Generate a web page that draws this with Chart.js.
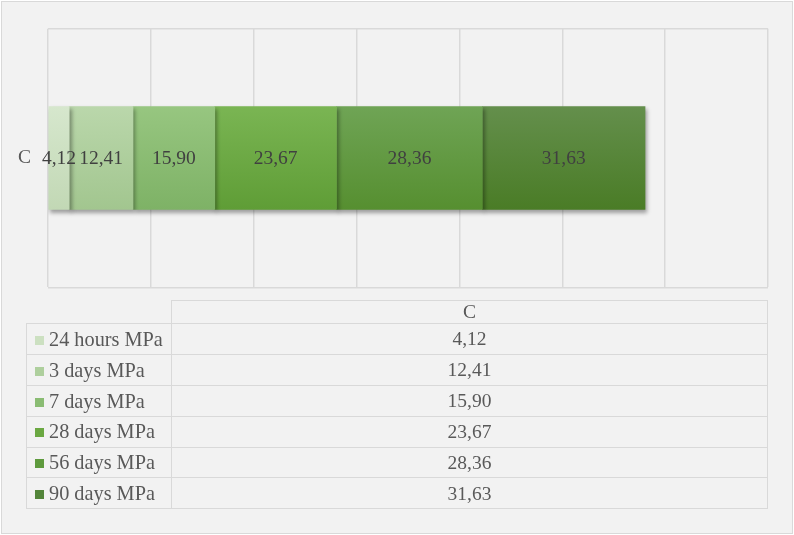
<!DOCTYPE html>
<html lang="en">
<head>
  <meta charset="utf-8" />
  <title>Compressive strength C</title>
  <script src="https://cdn.jsdelivr.net/npm/chart.js"></script>
  <style>
    * { box-sizing: border-box; margin: 0; padding: 0; }
    body { background: #fff; width: 794px; height: 535px; overflow: hidden; }

    .frame {
      position: absolute;
      left: 1px; top: 1px;
      width: 792px; height: 533px;
      background: #f2f2f2;
      border: 1.5px solid #d9d9d9;
    }

    #chartWrap {
      position: absolute;
      left: 0; top: 0;
      width: 794px; height: 316px;
    }

    table.data {
      position: absolute;
      left: 26px; top: 300px;
      width: 742px;
      border-collapse: collapse;
      font-family: "Liberation Serif", "Times New Roman", serif;
      font-size: 19.5px;
      color: #595959;
    }

    table.data td {
      border: 1.5px solid #d9d9d9;
      padding: 0;
      line-height: 1;
    }

    table.data tr.head td { height: 23px; text-align: center; }
    table.data tr.head td.blank { border-top: none; border-left: none; }
    table.data tr.row td { height: 30.9px; }
    table.data td.name { width: 145px; padding-left: 8px; white-space: nowrap; font-size: 20.3px; }
    table.data td.val { text-align: center; }

    .key {
      display: inline-block;
      width: 9px; height: 9px;
      margin-right: 5px;
      vertical-align: 1px;
    }
  </style>
</head>
<body>
  <div class="frame"></div>
  <div id="chartWrap"><canvas id="strengthChart" width="794" height="316"></canvas></div>
  <table class="data" id="dataTable"></table>

  <script>
    // data
    const categories = ['C'];
    const seriesNames = ['24 hours MPa', '3 days MPa', '7 days MPa', '28 days MPa', '56 days MPa', '90 days MPa'];
    const seriesValues = [4.12, 12.41, 15.90, 23.67, 28.36, 31.63];
    const axisMax = 140;
    const axisStep = 20;

    // colours: top / bottom of the gradient, flat for the table keys
    const topColors = ['#d6e7cd', '#bad7ab', '#97c680', '#7ab553', '#6fa455', '#648f4c'];
    const bottomColors = ['#c2d8b5', '#a2c68f', '#7eb266', '#5f9d36', '#568f30', '#4a7c26'];
    const keyColors = ['#cce0c1', '#aecf9d', '#8abc73', '#6ba842', '#5e9a3d', '#53853a'];

    const BAR_H = 103;
    const fmt = v => v.toFixed(2).replace('.', ',');

    function gradientFor(i) {
      return ctx => {
        const area = ctx.chart.chartArea;
        if (!area) return keyColors[i];
        const mid = (area.top + area.bottom) / 2;
        const g = ctx.chart.ctx.createLinearGradient(0, mid - BAR_H / 2, 0, mid + BAR_H / 2);
        g.addColorStop(0, topColors[i]);
        g.addColorStop(1, bottomColors[i]);
        return g;
      };
    }

    const barShadow = {
      id: 'barShadow',
      beforeDatasetsDraw(chart) {
        const c = chart.ctx;
        c.save();
        c.shadowColor = 'rgba(0,0,0,0.35)';
        c.shadowBlur = 4;
        c.shadowOffsetX = 2;
        c.shadowOffsetY = 3;
      },
      afterDatasetsDraw(chart) {
        chart.ctx.restore();
      }
    };

    const segLabels = {
      id: 'segLabels',
      afterDatasetsDraw(chart) {
        const c = chart.ctx;
        c.save();
        c.font = '19.5px "Liberation Serif", "Times New Roman", serif';
        c.fillStyle = '#404040';
        c.textAlign = 'center';
        c.textBaseline = 'middle';
        chart.data.datasets.forEach((ds, i) => {
          chart.getDatasetMeta(i).data.forEach((bar, j) => {
            const p = bar.getProps(['x', 'y', 'base'], true);
            c.fillText(fmt(ds.data[j]), (p.x + p.base) / 2, p.y + 1);
          });
        });
        c.restore();
      }
    };

    new Chart('strengthChart', {
      type: 'bar',
      data: {
        labels: categories,
        datasets: seriesNames.map((name, i) => ({
          label: name,
          data: [seriesValues[i]],
          backgroundColor: gradientFor(i),
          borderWidth: 0,
          barThickness: BAR_H
        }))
      },
      options: {
        indexAxis: 'y',
        responsive: false,
        animation: false,
        layout: { padding: { left: 8, top: 20, right: 26, bottom: 13 } },
        plugins: { legend: { display: false }, tooltip: { enabled: false } },
        scales: {
          x: {
            stacked: true,
            min: 0,
            max: axisMax,
            ticks: { display: false, stepSize: axisStep },
            grid: { color: '#d9d9d9', lineWidth: 1.5, drawTicks: false },
            border: { display: false },
            afterFit: s => { s.height = 0; }
          },
          y: {
            stacked: true,
            ticks: {
              color: '#595959',
              padding: 17,
              font: { family: '"Liberation Serif", "Times New Roman", serif', size: 19.5 }
            },
            grid: { color: '#d9d9d9', lineWidth: 1.5, drawTicks: false },
            border: { display: false },
            afterFit: s => { s.width = 40; }
          }
        }
      },
      plugins: [barShadow, segLabels]
    });

    // data table under the chart
    const table = document.getElementById('dataTable');
    let html = '<tr class="head"><td class="blank"></td>' +
      categories.map(c => `<td class="val">${c}</td>`).join('') + '</tr>';
    seriesNames.forEach((name, i) => {
      html += `<tr class="row"><td class="name"><span class="key" style="background:${keyColors[i]}"></span>${name}</td>` +
        `<td class="val">${fmt(seriesValues[i])}</td></tr>`;
    });
    table.innerHTML = html;
  </script>
</body>
</html>
